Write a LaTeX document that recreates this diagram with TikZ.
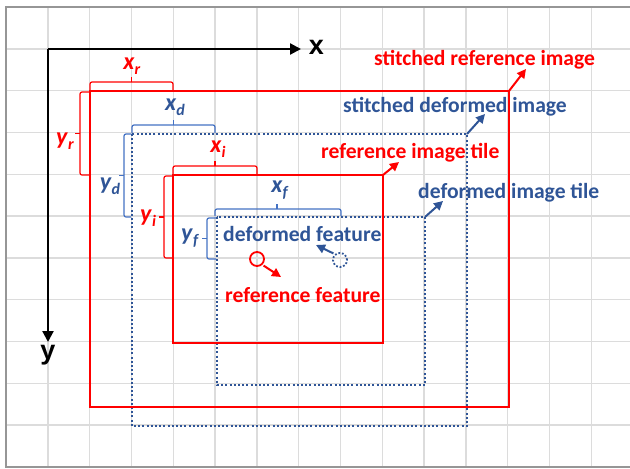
\documentclass[tikz,border=0pt]{standalone}
\usepackage{fontspec}
\setmainfont{Carlito}
\newfontfamily\axisfont{Liberation Sans}
\usetikzlibrary{arrows.meta}
\definecolor{myred}{RGB}{255,0,0}
\definecolor{myblue}{RGB}{47,85,151}
\definecolor{braceblue}{RGB}{68,114,196}
\definecolor{gridgray}{RGB}{220,220,220}
\definecolor{framegray}{RGB}{150,150,150}
\newcommand\sublbl[2]{\textbf{\textit{#1}}\raisebox{-0.45ex}{\fontsize{16}{16}\selectfont\textbf{\textit{#2}}}}
\begin{document}
\begin{tikzpicture}[x=1pt,y=-1pt,
  gridline/.style={draw=gridgray,line width=1.4pt},
  frameline/.style={draw=framegray,line width=1.8pt},
  axisline/.style={draw=black,line width=2.2pt,-{Triangle[length=11pt,width=11pt]}},
  redbox/.style={draw=myred,line width=2.2pt},
  bluebox/.style={draw=myblue,line width=2pt,dash pattern=on 2pt off 2.2pt},
  redtxt/.style={text=myred,font=\fontsize{21.6}{24}\selectfont\bfseries,inner sep=0pt},
  bluetxt/.style={text=myblue,font=\fontsize{21.6}{24}\selectfont\bfseries,inner sep=0pt},
  redsub/.style={text=myred,font=\fontsize{24}{26}\selectfont,inner sep=0pt},
  bluesub/.style={text=myblue,font=\fontsize{24}{26}\selectfont,inner sep=0pt},
  redarrow/.style={draw=myred,line width=2pt,-{Triangle[length=9pt,width=9pt]}},
  bluearrow/.style={draw=myblue,line width=2pt,-{Triangle[length=9pt,width=9pt]}},
  redbrace/.style={draw=myred,line width=1.2pt,rounded corners=2pt},
  bluebrace/.style={draw=braceblue,line width=1.2pt,rounded corners=2pt},
  axislbl/.style={font=\axisfont\fontsize{27}{28}\selectfont\bfseries,inner sep=0pt}
]
\useasboundingbox (0,0) rectangle (630,469);
\fill[white] (0,0) rectangle (630,469);
% grid
\foreach \k in {1,...,14} \draw[gridline] ({6+41.8*\k},7) -- ({6+41.8*\k},467);
\foreach \k in {1,...,10} \draw[gridline] (6,{7+41.8*\k}) -- (630,{7+41.8*\k});
\draw[frameline] (630,7) -- (6,7) -- (6,467) -- (630,467);

% axes
\coordinate (O) at (48,49);
\coordinate (xtip) at (301,49);
\coordinate (ytip) at (48,342);
\draw[axisline] (O) -- (xtip);
\draw[axisline] (O) -- (ytip);
\node[axislbl] (xl) at (316.5,47) {x};
\node[axislbl] (yl) at (48,355) {y};

% rectangles
\coordinate (srTL) at (90,91);  \coordinate (srBR) at (509,407);
\coordinate (sdTL) at (132,134); \coordinate (sdBR) at (467,426);
\coordinate (riTL) at (173,175); \coordinate (riBR) at (383,343);
\coordinate (diTL) at (217,217); \coordinate (diBR) at (425,385);
\draw[bluebox] (sdTL) rectangle (sdBR);
\draw[bluebox] (diTL) rectangle (diBR);
\draw[redbox] (srTL) rectangle (srBR);
\draw[redbox] (riTL) rectangle (riBR);
\coordinate (srTR) at (509,91);
\coordinate (sdTR) at (467,134);
\coordinate (riTR) at (383,175);
\coordinate (diTR) at (425,217);

% braces (horizontal)
\draw[redbrace] (90,91) -- (90,82) -- (173,82) -- (173,91);
\draw[redbrace,rounded corners=0pt] (131.5,82) -- (131.5,77);
\draw[bluebrace] (132,133) -- (132,125) -- (215,125) -- (215,133);
\draw[bluebrace,rounded corners=0pt] (173.5,125) -- (173.5,120);
\draw[redbrace] (173,174) -- (173,166) -- (257,166) -- (257,174);
\draw[redbrace,rounded corners=0pt] (215,166) -- (215,161);
\draw[bluebrace] (215,216) -- (215,209) -- (341,209) -- (341,216);
\draw[bluebrace,rounded corners=0pt] (277,209) -- (277,204);
% braces (vertical)
\draw[redbrace] (89,92) -- (80,92) -- (80,175) -- (89,175);
\draw[redbrace,rounded corners=0pt] (80,133.5) -- (75,133.5);
\draw[bluebrace] (131,134) -- (124,134) -- (124,217) -- (131,217);
\draw[bluebrace,rounded corners=0pt] (124,175.5) -- (119,175.5);
\draw[redbrace] (172,176) -- (164,176) -- (164,258) -- (172,258);
\draw[redbrace,rounded corners=0pt] (164,217) -- (159,217);
\draw[bluebrace] (216,218) -- (207,218) -- (207,259) -- (216,259);
\draw[bluebrace,rounded corners=0pt] (207,238.5) -- (202,238.5);

% brace labels
\node[redsub] (lxr) at (132,66) {\sublbl{x}{r}};
\node[bluesub] (lxd) at (175,107) {\sublbl{x}{d}};
\node[redsub] (lxi) at (218,149) {\sublbl{x}{i}};
\node[bluesub] (lxf) at (280,190) {\sublbl{x}{f}};
\node[redsub] (lyr) at (65,141) {\sublbl{y}{r}};
\node[bluesub] (lyd) at (110,186) {\sublbl{y}{d}};
\node[redsub] (lyi) at (148,218) {\sublbl{y}{i}};
\node[bluesub] (lyf) at (190,238) {\sublbl{y}{f}};

% region labels
\node[redtxt,anchor=west] (tsr) at (374,60) {stitched reference image};
\node[bluetxt,anchor=west] (tsd) at (343,107) {stitched deformed image};
\node[redtxt,anchor=west] (tri) at (321,153) {reference image tile};
\node[bluetxt,anchor=west] (tdi) at (418,193) {deformed image tile};
\coordinate (asr) at (526,69);
\coordinate (asd) at (485,114);
\coordinate (ari) at (399,162);
\coordinate (adi) at (443,201);
\draw[redarrow] (srTR) -- (asr);
\draw[bluearrow] (sdTR) -- (asd);
\draw[redarrow] (riTR) -- (ari);
\draw[bluearrow] (diTR) -- (adi);

% features
\node[bluetxt,anchor=west] (tdf) at (223,234) {deformed feature};
\node[redtxt,anchor=west] (trf) at (225,295) {reference feature};
\node[circle,draw=myred,line width=1.8pt,minimum size=14pt,inner sep=0pt] (rf) at (257,259) {};
\node[circle,draw=myblue,line width=1.8pt,dash pattern=on 1.8pt off 1.8pt,minimum size=14pt,inner sep=0pt] (df) at (340,260) {};
\coordinate (arf) at (281,277);
\coordinate (adf) at (316,245);
\draw[redarrow] (rf.south east) ++(1,1) coordinate (rfs) (rfs) -- (arf);
\draw[bluearrow] (df.north west) ++(-1,-1) coordinate (dfs) (dfs) -- (adf);
\end{tikzpicture}
\end{document}
